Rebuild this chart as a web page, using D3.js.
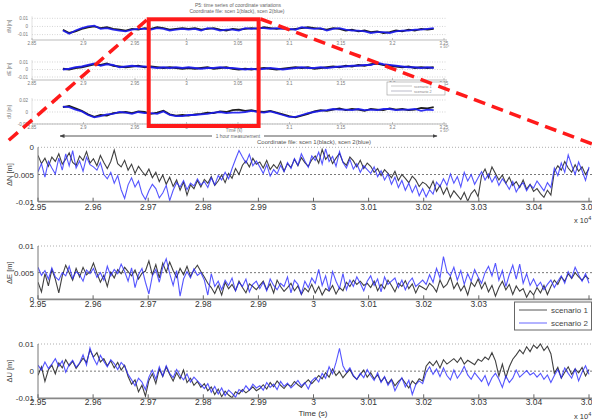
<!DOCTYPE html>
<html><head><meta charset="utf-8">
<script src="https://cdn.jsdelivr.net/npm/d3@7"></script>
<style>
body{margin:0;background:#fff;}
svg{display:block;font-family:"Liberation Sans",Arial,sans-serif;}
</style></head>
<body><div id="chart"></div>
<script>
// ---------------- DATA ----------------
const seriesNames = ["scenario 1", "scenario 2"];
const mainXTicks = [29500, 29600, 29700, 29800, 29900, 30000, 30100, 30200, 30300, 30400, 30500];
const mainXTickLabels = ["2.95","2.96","2.97","2.98","2.99","3","3.01","3.02","3.03","3.04","3.05"];
const mainStart = 29500, mainEnd = 30500;
const overviewXTicks = [28500, 29000, 29500, 30000, 30500, 31000, 31500, 32000, 32500];
const overviewXTickLabels = ["2.85","2.9","2.95","3","3.05","3.1","3.15","3.2","3.25"];
const overviewStart = 28800, overviewEnd = 32400;
const zoomWindow = [29633, 30700];

// main panels, values in mm
const dN_s1 = [-1.5,-3.0,-2.0,-3.5,-1.8,-2.6,-1.2,-3.1,-2.2,-1.0,-2.8,-3.3,-1.6,-2.4,-0.8,-2.9,
-2.1,-3.4,-1.5,-2.8,-3.9,-2.6,-0.5,-3.0,-3.6,-2.4,-4.2,-3.1,-4.8,-3.5,-4.4,-5.2,
-4.0,-5.6,-4.6,-6.3,-5.1,-6.8,-5.5,-7.2,-6.0,-7.9,-6.4,-8.8,-6.9,-7.6,-6.1,-7.3,
-5.9,-6.6,-5.4,-7.0,-6.2,-5.1,-6.5,-4.8,-5.7,-3.9,-5.0,-3.3,-2.5,-3.6,-2.0,-3.1,
-2.7,-3.8,-2.4,-4.1,-3.2,-3.9,-2.6,-4.4,-3.0,-3.7,-2.2,-3.4,-1.9,-2.8,-3.5,-2.3,
-1.6,-2.9,-0.4,-2.2,-1.4,-3.0,-2.0,-1.1,-2.7,-3.3,-1.8,-2.5,-3.6,-2.4,-3.9,-2.9,
-3.5,-4.6,-3.9,-5.2,-4.1,-4.8,-5.6,-4.4,-6.1,-5.0,-5.7,-6.5,-5.3,-6.0,-7.2,-6.4,
-6.8,-7.6,-6.2,-8.1,-7.0,-8.6,-7.4,-9.2,-8.0,-8.8,-9.6,-8.3,-9.9,-8.5,-7.8,-9.1,
-5.2,-4.0,-5.6,-3.6,-4.8,-6.0,-5.1,-6.6,-5.5,-7.0,-6.3,-7.4,-6.0,-7.7,-6.8,-8.1,
-7.6,-8.5,-9.2,-7.9,-8.8,-4.5,-3.4,-4.2,-2.6,-3.8,-4.6,-3.2,-4.4,-3.6,-5.0,-3.9];
const dN_s2 = [-4.5,-3.0,-5.5,-2.6,-3.8,-4.9,-2.0,-4.2,-1.2,-3.4,-0.6,-3.8,-2.5,-4.4,-1.8,-3.2,
-3.6,-4.2,-2.8,-5.0,-5.8,-4.6,-6.6,-5.2,-7.8,-9.4,-6.9,-5.6,-7.3,-6.2,-8.5,-9.6,
-8.0,-6.8,-7.6,-9.3,-8.4,-7.0,-9.8,-7.9,-6.5,-7.3,-6.1,-7.8,-6.6,-7.1,-5.8,-6.9,
-6.3,-7.4,-5.6,-6.9,-5.2,-6.0,-4.6,-5.8,-3.9,-2.2,-0.6,-1.8,-2.9,-1.3,-3.4,-2.5,
-3.6,-4.8,-3.2,-5.3,-4.1,-4.9,-3.3,-4.5,-2.8,-3.9,-2.1,-3.3,-1.2,-2.5,-3.7,-1.6,
-2.4,-0.9,-3.1,-0.3,-2.6,-1.7,-3.5,-0.8,-2.8,-3.8,-2.2,-4.0,-3.0,-4.6,-3.4,-4.1,
-4.8,-3.6,-5.4,-4.3,-6.0,-4.9,-6.8,-5.5,-7.4,-6.1,-7.9,-6.6,-8.3,-7.0,-8.9,-7.6,
-9.1,-7.8,-8.6,-6.4,-7.2,-5.8,-7.0,-4.9,-6.6,-5.4,-7.3,-4.6,-6.2,-5.0,-6.8,-5.6,
-4.5,-6.0,-4.9,-6.4,-5.3,-7.0,-5.8,-6.6,-7.7,-6.3,-8.2,-7.1,-6.5,-8.0,-6.9,-7.5,
-6.2,-7.1,-8.0,-6.5,-7.4,-3.8,-5.2,-2.9,-4.6,-1.4,-3.3,-5.0,-2.7,-4.3,-6.1,-3.6];
const dE_s1 = [3.2,1.4,4.8,2.5,5.6,3.8,1.2,4.4,6.4,5.0,3.6,5.8,4.2,6.0,4.6,5.2,
6.8,4.9,3.2,4.5,2.4,5.1,4.0,5.6,4.8,6.0,5.2,4.4,5.5,3.8,4.9,5.3,
7.2,4.6,6.5,4.0,6.8,5.1,7.0,5.4,4.1,5.8,4.6,6.2,4.3,5.5,6.4,5.2,
4.2,3.0,2.2,1.1,2.6,0.8,3.2,2.0,2.8,1.6,3.4,2.2,1.2,2.9,2.4,1.8,
2.6,3.4,1.8,2.9,1.2,3.6,2.4,1.5,2.2,3.0,1.6,2.5,0.9,2.1,1.4,2.8,
1.2,2.4,0.8,2.0,1.5,2.6,1.0,2.2,1.6,3.2,2.4,3.6,2.8,3.4,2.6,3.0,
2.2,3.4,1.6,2.8,2.0,3.6,2.6,1.4,3.0,2.4,3.5,2.0,2.9,1.2,2.6,2.2,
1.8,3.0,2.4,1.4,3.6,2.2,2.8,4.2,2.0,3.1,1.6,2.6,0.8,3.2,2.4,3.8,
2.0,3.2,1.4,2.6,0.6,2.2,3.4,1.8,2.8,0.9,2.5,1.5,2.0,0.4,1.6,0.8,
2.2,1.2,2.6,0.9,2.4,3.6,2.8,4.2,3.4,4.8,3.9,5.0,4.2,3.6,4.4,3.8];
const dE_s2 = [6.0,4.5,5.4,3.8,5.9,4.2,3.6,5.0,4.4,6.2,3.9,5.2,4.6,3.4,5.5,4.8,
5.8,4.1,5.0,3.6,6.2,4.4,5.6,4.8,6.6,5.2,3.4,5.9,2.2,4.6,5.8,3.2,
1.0,4.4,5.6,3.2,6.0,7.6,4.8,2.6,5.4,0.6,3.8,5.2,4.0,5.7,4.5,5.0,
3.6,0.8,4.8,2.4,3.4,1.8,3.6,2.6,4.0,1.6,3.2,2.4,3.8,1.4,2.8,3.4,
2.0,3.2,1.6,3.8,2.6,1.8,3.0,2.4,4.2,1.2,3.6,2.8,1.0,3.4,2.2,4.0,
3.0,5.6,2.6,4.4,1.6,5.2,3.4,2.0,4.8,1.8,3.6,2.4,4.2,3.0,1.6,3.4,
4.4,2.6,3.8,1.4,4.2,2.8,3.4,4.0,2.2,3.6,1.8,3.2,4.0,2.4,3.0,3.6,
2.8,4.6,3.2,5.8,4.0,8.0,5.2,4.4,6.0,3.6,5.4,2.8,4.8,3.4,5.6,4.2,
3.0,5.0,6.2,4.4,6.8,3.6,5.4,2.4,4.6,6.4,3.8,6.6,3.0,4.8,2.6,3.8,
2.4,3.2,1.8,2.8,3.6,2.2,3.4,4.4,3.0,5.2,4.0,6.0,4.6,3.4,4.8,3.0];
const dU_s1 = [-1.5,1.6,-3.8,0.5,2.2,-1.0,3.0,1.2,4.2,2.0,3.6,1.0,2.8,4.8,3.2,7.8,
5.2,6.8,3.4,4.6,2.0,3.8,1.2,3.2,0.4,2.2,-2.0,-4.8,-3.2,-7.6,-5.2,-9.2,
-3.4,-1.0,-4.6,0.8,-2.0,1.6,-1.2,-3.6,-0.6,-2.8,0.4,-4.2,-2.6,-5.2,-3.8,-6.0,
-4.6,-7.2,-5.8,-8.6,-6.6,-9.4,-7.4,-8.8,-9.8,-7.6,-8.4,-6.8,-8.0,-7.0,-5.8,-7.2,
-6.4,-5.0,-6.6,-4.2,-5.8,-3.6,-5.2,-6.4,-4.8,-5.6,-3.8,-5.0,-6.0,-4.4,-3.2,-4.6,
-3.2,-1.6,-2.8,-0.6,-2.2,0.8,-1.6,-0.2,-2.4,-0.8,0.6,-1.8,-3.0,-1.2,0.4,-2.2,
-0.6,-2.8,-1.4,-3.8,-2.2,-4.6,-3.0,-5.4,-3.8,-2.6,-4.4,-6.2,-3.6,-4.8,-2.8,-3.6,
1.8,3.4,2.0,3.8,1.2,4.2,2.6,3.6,4.6,3.2,5.0,2.6,4.0,3.2,2.4,4.4,
3.6,5.2,4.2,6.8,3.8,-1.8,2.6,-2.4,1.6,4.4,6.0,7.8,6.4,9.0,7.2,9.6,
8.4,10.0,7.6,9.2,6.4,-0.8,1.4,-2.6,-0.4,1.6,-1.2,0.8,-0.6,1.4,-1.8,0.6];
const dU_s2 = [2.2,0.4,3.4,1.0,2.6,4.6,1.8,3.8,-0.4,2.4,4.0,1.4,3.0,6.0,2.2,8.6,
4.8,2.4,5.8,3.6,1.6,4.2,2.8,0.6,3.2,1.8,-1.2,-3.2,-5.4,-2.6,-4.0,-6.8,
-2.2,0.4,-3.0,1.6,-1.8,2.0,-0.8,-2.4,0.6,-1.6,-3.2,-1.0,-4.0,-2.2,-3.6,-5.0,
-6.4,-4.6,-7.8,-5.6,-8.4,-6.2,-9.0,-7.0,-8.2,-9.6,-6.8,-7.6,-5.4,-7.0,-4.8,-6.2,
-5.4,-7.0,-4.2,-6.0,-4.8,-6.8,-3.8,-5.6,-4.4,-6.2,-5.0,-3.4,-5.4,-4.2,-6.6,-3.6,
-2.4,-4.0,-0.8,-2.6,1.6,-1.0,3.2,8.4,2.0,-0.4,1.2,-1.6,-3.0,-0.8,-2.4,0.6,
-1.6,-3.4,-0.6,-4.2,-2.0,-5.2,-3.2,-7.2,-4.6,-2.4,-5.8,-3.4,-8.6,-5.0,-3.6,-4.6,
-0.4,1.6,-1.2,0.8,-2.0,1.2,-1.6,-3.2,0.4,-2.6,-0.8,1.8,-1.4,-3.0,-0.6,-2.2,
-3.8,-1.6,-5.2,-2.4,-0.8,-3.0,-6.0,-1.8,-4.2,-2.6,0.4,-2.2,-1.0,0.2,-1.4,-0.6,
-2.2,-0.8,-3.0,-1.4,-4.2,-1.6,0.6,-2.4,1.2,-0.8,-2.6,0.8,-3.6,-0.4,2.0,-1.2];

// overview panels, values in mm
const ovN_s1 = [-4,-8,-6,-3,-1,0,-2,-1,-3,-4, -5,-3,-4,-2,-3,-1,-2,-4,-3,-2, -3,-2,-4,-3,-2,-4,-5,-3,-4,-3,
-2,-3,-1,-2,-3,-2,-4,-3,-2,-1, -2,-3,-4,-2,-3,-5,-4,-6,-5,-7, -6,-8,-7,-5,-6,-4,-5,-3,-4,-3];
const ovN_s2 = [-5,-9,-5,-2,0,1,-3,-2,-4,-5, -6,-4,-3,-3,-4,-2,-3,-5,-4,-3, -4,-3,-5,-2,-3,-5,-4,-4,-5,-2,
-3,-2,-2,-3,-2,-3,-3,-4,-1,-2, -3,-2,-5,-3,-2,-4,-5,-5,-6,-8, -7,-7,-8,-6,-5,-5,-4,-4,-3,-2];
const ovE_s1 = [1,0,2,3,5,7,6,8,5,4, 3,4,5,3,4,3,2,3,2,1, 2,1,2,3,1,2,3,1,0,1,
0,1,2,1,0,1,2,3,2,3, 1,2,3,4,3,5,4,6,5,7, 8,6,5,4,3,4,2,3,2,3];
const ovE_s2 = [0,1,3,4,6,8,5,7,6,3, 4,5,4,4,3,2,3,2,3,2, 3,2,1,2,2,3,2,2,1,0,
1,0,1,2,1,0,1,2,3,2, 2,3,2,3,4,4,5,5,6,6, 9,7,6,5,4,3,3,2,3,2];
const ovU_s1 = [8,10,6,2,-4,-8,-5,-6,-2,-1, 0,-2,1,0,-3,-1,2,-4,-6,-5, -6,-4,-3,-1,-2,1,0,3,4,2,
3,1,0,2,-1,-4,-7,-9,-6,-3, 1,3,2,4,6,3,5,4,2,5, 4,3,6,4,5,3,4,7,6,8];
const ovU_s2 = [9,8,4,1,-5,-9,-7,-4,-3,0, -1,-3,0,-2,-2,-3,1,-5,-7,-7, -5,-5,-4,-3,-1,0,-2,-1,-1,0,
2,0,-1,1,-2,-5,-8,-8,-5,-2, 0,2,3,5,4,4,3,5,3,4, 3,5,5,3,4,4,5,2,4,3];

// ---------------- LAYOUT ----------------
const W = 592, H = 419;
const svg = d3.select("#chart").append("svg").attr("width", W).attr("height", H);
const defs = svg.append("defs");
const C1 = "#1e1e1e", C2 = "#2b2bff";

function toSeries(vals, start, end) {
  const n = vals.length;
  return vals.map((v, i) => ({t: start + i * (end - start) / (n - 1), v: v / 1000}));
}

// ---------- overview ----------
const ox = d3.scaleLinear().domain([28500, 32500]).range([32, 444]);
const ov = svg.append("g");
ov.append("text").attr("x", 238).attr("y", 7).attr("text-anchor", "middle")
  .attr("font-size", 5).attr("fill", "#666").text("P5: time series of coordinate variations");
ov.append("text").attr("x", 237).attr("y", 12.5).attr("text-anchor", "middle")
  .attr("font-size", 5).attr("fill", "#666").text("Coordinate file: scen 1(black), scen 2(blue)");

const ovPanels = [
  {lab:"dN [m]", s1: ovN_s1, s2: ovN_s2, dom:[-0.01,0.01], rng:[34.6,18.3], grid:[0.01,0,-0.01], gridLab:["0.01","0","-0.01"], axisY:40},
  {lab:"dE [m]", s1: ovE_s1, s2: ovE_s2, dom:[-0.01,0.01], rng:[77,62], grid:[0.01,0,-0.01], gridLab:["0.01","0","-0.01"], axisY:80},
  {lab:"dU [m]", s1: ovU_s1, s2: ovU_s2, dom:[-0.02,0.02], rng:[124,100], grid:[0.02,0,-0.02], gridLab:["0.02","0","-0.02"], axisY:124}
];
ovPanels.forEach((p, pi) => {
  const y = d3.scaleLinear().domain(p.dom).range(p.rng);
  const g = ov.append("g");
  p.grid.forEach((gv, k) => {
    g.append("line").attr("x1", 32).attr("x2", 447).attr("y1", y(gv)).attr("y2", y(gv))
      .attr("stroke", "#bbb").attr("stroke-width", 0.6).attr("stroke-dasharray", "1,1.5");
    g.append("text").attr("x", 28).attr("y", y(gv) + 1.6).attr("text-anchor", "end")
      .attr("font-size", 4.5).attr("fill", "#777").text(p.gridLab[k]);
  });
  g.append("line").attr("x1", 32).attr("x2", 447).attr("y1", p.axisY).attr("y2", p.axisY)
    .attr("stroke", "#aaa").attr("stroke-width", 0.8);
  g.append("line").attr("x1", 32).attr("x2", 32).attr("y1", p.rng[1] - 2).attr("y2", p.axisY)
    .attr("stroke", "#ccc").attr("stroke-width", 0.6);
  overviewXTicks.forEach((t, k) => {
    g.append("line").attr("x1", ox(t)).attr("x2", ox(t)).attr("y1", p.axisY).attr("y2", p.axisY - 2)
      .attr("stroke", "#999").attr("stroke-width", 0.6);
    g.append("text").attr("x", ox(t)).attr("y", p.axisY + 4.5).attr("text-anchor", "middle")
      .attr("font-size", 4.5).attr("fill", "#777").text(overviewXTickLabels[k]);
  });
  g.append("text").attr("transform", `translate(11,${(p.rng[0] + p.rng[1]) / 2}) rotate(-90)`)
    .attr("text-anchor", "middle").attr("font-size", 4.5).attr("fill", "#777").text(p.lab);
  const line = d3.line().x(d => ox(d.t)).y(d => y(d.v));
  g.append("path").datum(toSeries(p.s1, overviewStart, overviewEnd)).attr("d", line)
    .attr("fill", "none").attr("stroke", C1).attr("stroke-width", 1.8);
  g.append("path").datum(toSeries(p.s2, overviewStart, overviewEnd)).attr("d", line)
    .attr("fill", "none").attr("stroke", "#1a1aee").attr("stroke-width", 1.8).attr("opacity", 0.9);
  if (pi !== 1) ov.append("text").attr("x", 440).attr("y", p.axisY + 8).attr("font-size", 4)
    .attr("fill", "#777").text("x 10\u2074");
});
ov.append("text").attr("x", 234).attr("y", 132).attr("text-anchor", "middle")
  .attr("font-size", 4.5).attr("fill", "#777").text("Time (s)");
// overview legend
const oleg = ov.append("g");
oleg.append("rect").attr("x", 387).attr("y", 82).attr("width", 58).attr("height", 13)
  .attr("fill", "#fff").attr("stroke", "#999").attr("stroke-width", 0.6);
seriesNames.forEach((s, i) => {
  oleg.append("line").attr("x1", 391).attr("x2", 412).attr("y1", 86 + i * 5).attr("y2", 86 + i * 5)
    .attr("stroke", i ? "#aab" : "#bbb").attr("stroke-width", 0.8);
  oleg.append("text").attr("x", 414).attr("y", 87.5 + i * 5).attr("font-size", 3.8)
    .attr("fill", "#888").text(s);
});
// 1 hour measurement arrow
defs.append("marker").attr("id", "ah").attr("viewBox", "0 0 10 10").attr("refX", 9).attr("refY", 5)
  .attr("markerWidth", 5).attr("markerHeight", 5).attr("orient", "auto-start-reverse")
  .append("path").attr("d", "M0,1 L10,5 L0,9 z").attr("fill", "#444");
ov.append("line").attr("x1", 60).attr("x2", 212).attr("y1", 136).attr("y2", 136)
  .attr("stroke", "#555").attr("stroke-width", 1).attr("marker-start", "url(#ah)");
ov.append("line").attr("x1", 264).attr("x2", 437).attr("y1", 136).attr("y2", 136)
  .attr("stroke", "#555").attr("stroke-width", 1).attr("marker-end", "url(#ah)");
ov.append("text").attr("x", 238).attr("y", 138).attr("text-anchor", "middle")
  .attr("font-size", 4.8).attr("fill", "#666").text("1 hour measurement");
ov.append("text").attr("x", 314).attr("y", 143.5).attr("text-anchor", "middle")
  .attr("font-size", 6).attr("fill", "#555").text("Coordinate file: scen 1(black), scen 2(blue)");

// ---------- main panels ----------
const legendX = 514.5;
const mx = d3.scaleLinear().domain([mainStart, mainEnd]).range([38, 589]);
const mainPanels = [
  {lab:"\u0394N [m]", s1: dN_s1, s2: dN_s2, dom:[-0.01,0], rng:[201.7,147.3], ticks:[0,-0.005,-0.01], tickLab:["0","-0.005","-0.01"], mult:true, lblDy:8.5, hideUnderLegend:false},
  {lab:"\u0394E [m]", s1: dE_s1, s2: dE_s2, dom:[0,0.01], rng:[299.3,246], ticks:[0.01,0.005,0], tickLab:["0.01","0.005","0"], mult:false, lblDy:8, hideUnderLegend:true},
  {lab:"\u0394U [m]", s1: dU_s1, s2: dU_s2, dom:[-0.01,0.01], rng:[398.3,344], ticks:[0.01,0,-0.01], tickLab:["0.01","0","-0.01"], mult:true, lblDy:7, hideUnderLegend:false}
];
mainPanels.forEach((p, pi) => {
  const y = d3.scaleLinear().domain(p.dom).range(p.rng);
  const g = svg.append("g");
  g.append("rect").attr("x", 38).attr("y", p.rng[1]).attr("width", 554).attr("height", p.rng[0] - p.rng[1])
    .attr("fill", "#fff");
  // grid
  g.append("line").attr("x1", 38).attr("x2", 592).attr("y1", p.rng[1]).attr("y2", p.rng[1])
    .attr("stroke", "#999").attr("stroke-width", 0.8).attr("stroke-dasharray", "1,2");
  const mid = (p.dom[0] + p.dom[1]) / 2;
  g.append("line").attr("x1", 38).attr("x2", 592).attr("y1", y(mid)).attr("y2", y(mid))
    .attr("stroke", "#555").attr("stroke-width", 0.8).attr("stroke-dasharray", "2,2");
  const cid = "clip" + pi;
  defs.append("clipPath").attr("id", cid).append("rect").attr("x", 38).attr("y", p.rng[1] - 1)
    .attr("width", 554).attr("height", p.rng[0] - p.rng[1] + 1);
  const line = d3.line().x(d => mx(d.t)).y(d => y(d.v));
  const lg = g.append("g").attr("clip-path", `url(#${cid})`);
  lg.append("path").datum(toSeries(p.s1, mainStart, mainEnd)).attr("d", line)
    .attr("fill", "none").attr("stroke", C1).attr("stroke-width", 1.1).attr("opacity", 0.85);
  lg.append("path").datum(toSeries(p.s2, mainStart, mainEnd)).attr("d", line)
    .attr("fill", "none").attr("stroke", C2).attr("stroke-width", 1.1).attr("opacity", 0.8);
  // axes
  g.append("line").attr("x1", 38).attr("x2", 38).attr("y1", p.rng[1]).attr("y2", p.rng[0])
    .attr("stroke", "#777").attr("stroke-width", 1);
  g.append("line").attr("x1", 38).attr("x2", 592).attr("y1", p.rng[0]).attr("y2", p.rng[0])
    .attr("stroke", "#888").attr("stroke-width", 1.8);
  mainXTicks.forEach((t, k) => {
    g.append("line").attr("x1", mx(t)).attr("x2", mx(t)).attr("y1", p.rng[0]).attr("y2", p.rng[0] - 4)
      .attr("stroke", "#666").attr("stroke-width", 1);
    if (p.hideUnderLegend && mx(t) > legendX) return;
    g.append("text").attr("x", mx(t)).attr("y", p.rng[0] + p.lblDy).attr("text-anchor", "middle")
      .attr("font-size", 8.5).attr("fill", "#333").text(mainXTickLabels[k]);
  });
  p.ticks.forEach((tv, k) => {
    g.append("text").attr("x", 34).attr("y", y(tv) + 3).attr("text-anchor", "end")
      .attr("font-size", 8).attr("fill", "#333").text(p.tickLab[k]);
  });
  g.append("text").attr("transform", `translate(12,${(p.rng[0] + p.rng[1]) / 2}) rotate(-90)`)
    .attr("text-anchor", "middle").attr("font-size", 7.5).attr("fill", "#444").text(p.lab);
  if (p.mult) {
    const mt = g.append("text").attr("x", 574).attr("y", p.rng[0] + 21).attr("font-size", 7.5).attr("fill", "#333");
    mt.append("tspan").text("x 10");
    mt.append("tspan").attr("dy", -3).attr("font-size", 5.5).text("4");
  }
});
svg.append("text").attr("x", 313).attr("y", 416).attr("text-anchor", "middle")
  .attr("font-size", 8).attr("fill", "#333").text("Time (s)");

// main legend
const leg = svg.append("g");
leg.append("rect").attr("x", legendX).attr("y", 302).attr("width", 77).attr("height", 28)
  .attr("fill", "#fff").attr("stroke", "#666").attr("stroke-width", 1);
seriesNames.forEach((s, i) => {
  leg.append("line").attr("x1", 519).attr("x2", 547).attr("y1", 310 + i * 13).attr("y2", 310 + i * 13)
    .attr("stroke", i ? "#6666ff" : "#555").attr("stroke-width", 1);
  leg.append("text").attr("x", 551).attr("y", 313 + i * 13).attr("font-size", 8)
    .attr("fill", "#444").text(s);
});

// ---------- zoom highlight ----------
const red = "#ff1a1a";
const rx0 = ox(zoomWindow[0]), rx1 = ox(zoomWindow[1]);
svg.append("rect").attr("x", rx0).attr("y", 19.3).attr("width", rx1 - rx0).attr("height", 106.7)
  .attr("fill", "none").attr("stroke", red).attr("stroke-width", 4);
svg.append("line").attr("x1", rx0 - 2).attr("y1", 20).attr("x2", 8).attr("y2", 141)
  .attr("stroke", red).attr("stroke-width", 3.5).attr("stroke-dasharray", "12,7");
svg.append("line").attr("x1", rx1 + 2).attr("y1", 19).attr("x2", 600).attr("y2", 147)
  .attr("stroke", red).attr("stroke-width", 3.5).attr("stroke-dasharray", "12,7");
</script></body></html>
